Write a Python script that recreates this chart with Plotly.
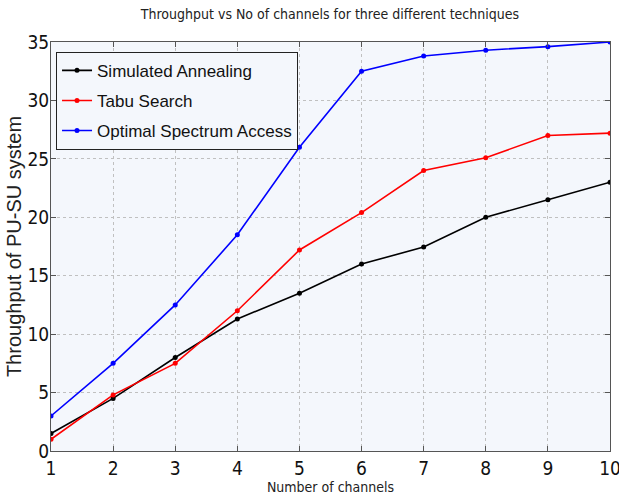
import plotly.graph_objects as go

channels = [1, 2, 3, 4, 5, 6, 7, 8, 9, 10]
simulated_annealing = [1.5, 4.5, 8.0, 11.3, 13.5, 16.0, 17.45, 20.0, 21.5, 23.0]
tabu_search = [1.0, 4.8, 7.5, 12.0, 17.2, 20.4, 24.0, 25.1, 27.0, 27.2]
optimal_access = [3.0, 7.5, 12.5, 18.5, 26.0, 32.5, 33.8, 34.3, 34.6, 35.0]

series_names = ["Simulated Annealing", "Tabu Search", "Optimal Spectrum Access"]
series_colors = ["#000000", "#ff0000", "#0000ff"]
series_values = [simulated_annealing, tabu_search, optimal_access]

COND = "DejaVu Sans Condensed, Liberation Sans Narrow, Arial Narrow, sans-serif"
REG = "Liberation Sans, Arial, Helvetica, sans-serif"
BG = "#f4f7fc"

fig = go.Figure()
for i, (name, color, vals) in enumerate(zip(series_names, series_colors, series_values)):
    fig.add_trace(go.Scatter(
        x=channels, y=vals, mode="lines+markers", name=name,
        legendgroup=f"g{i}",
        line=dict(color=color, width=1.6),
        marker=dict(color=color, size=5, symbol="circle"),
    ))

axis_common = dict(
    showline=True, linecolor="#555555", linewidth=1, mirror="ticks",
    ticks="inside", ticklen=5, tickcolor="#555555",
    showgrid=True, gridcolor="#c0c0c0", griddash="dot", gridwidth=1,
    zeroline=False, automargin=False, ticklabeloverflow="allow",
    tickfont=dict(family=COND, size=19, color="#111111"),
)

fig.update_layout(
    width=619, height=503,
    margin=dict(l=51, r=9, t=42, b=52),
    paper_bgcolor="white", plot_bgcolor=BG,
    title=dict(text="Throughput vs No of channels for three different techniques",
               x=0.533, xanchor="center", y=0.972, yanchor="middle",
               font=dict(family=COND, size=14, color="#222222")),
    xaxis=dict(range=[1, 10], dtick=1, tick0=1,
               title=dict(text="Number of channels", standoff=2,
                          font=dict(family=COND, size=14, color="#222222")),
               **axis_common),
    yaxis=dict(range=[0, 35], dtick=5, tick0=0, ticklabelstandoff=-3,
               title=dict(text="Throughput of PU-SU system", standoff=0,
                          font=dict(family=REG, size=20, color="#222222")),
               **axis_common),
    legend=dict(x=0.009, y=0.976, xanchor="left", yanchor="top",
                bgcolor=BG, bordercolor="#222222", borderwidth=1,
                font=dict(family=REG, size=17, color="#111111"),
                itemwidth=30, tracegroupgap=5),
    showlegend=True,
)

fig.write_html("out.html", config={"displayModeBar": False},
               post_script="document.body.style.margin='0';document.body.style.overflow='hidden';")
